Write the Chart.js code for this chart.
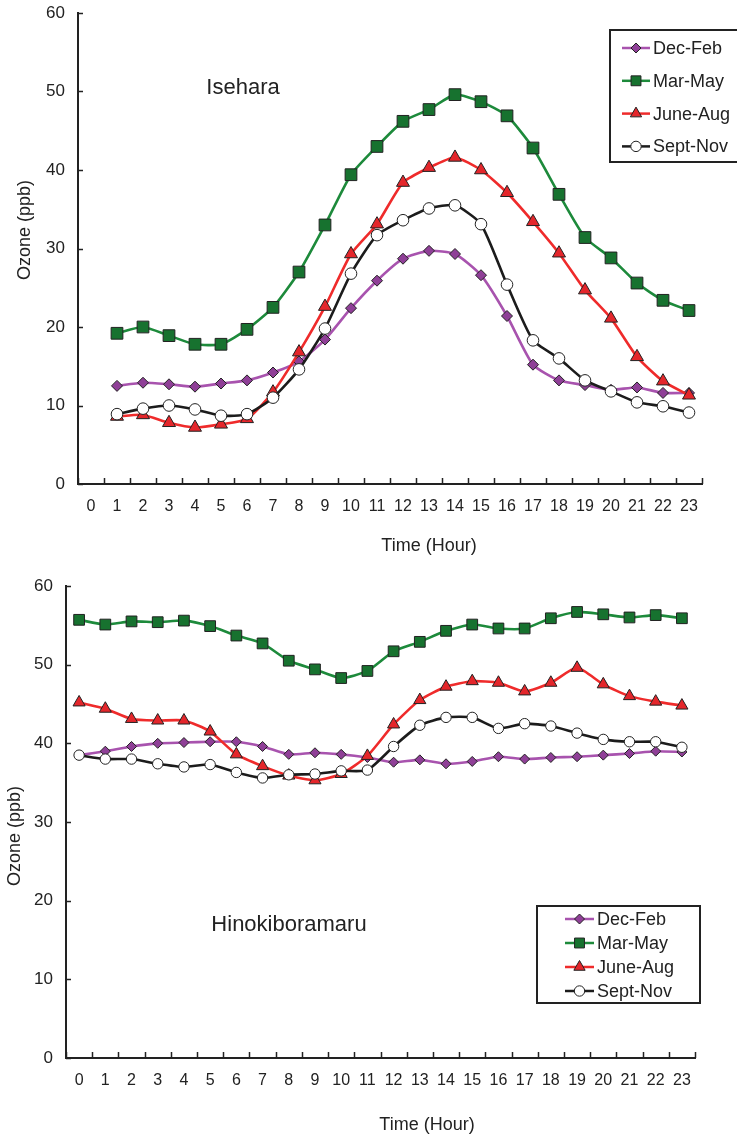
<!DOCTYPE html>
<html>
<head>
<meta charset="utf-8">
<script src="https://cdn.jsdelivr.net/npm/chart.js@4/dist/chart.umd.min.js"></script>
<style>
    html, body { margin: 0; padding: 0; background: #fff; }
    body { width: 737px; height: 1136px; position: relative; overflow: hidden; }
    .box { position: absolute; left: 0; width: 737px; }
    #topBox { top: 0; height: 560px; }
    #bottomBox { top: 560px; height: 576px; }
</style>
</head>
<body>
<div class="box" id="topBox"><canvas id="iseharaChart" width="737" height="560"></canvas></div>
<div class="box" id="bottomBox"><canvas id="hinoChart" width="737" height="576"></canvas></div>
<script>
const hours = ['0', '1', '2', '3', '4', '5', '6', '7', '8', '9', '10', '11', '12', '13', '14', '15', '16', '17', '18', '19', '20', '21', '22', '23'];
const yTicks = [0, 10, 20, 30, 40, 50, 60];
const seasons = ['Dec-Feb', 'Mar-May', 'June-Aug', 'Sept-Nov'];

// Isehara (no value at hour 0)
const iseharaDecFeb = [null, 12.5, 12.9, 12.7, 12.4, 12.8, 13.2, 14.2, 15.6, 18.4, 22.4, 25.9, 28.7, 29.7, 29.3, 26.6, 21.4, 15.2, 13.2, 12.6, 12.0, 12.3, 11.6, 11.6];
const iseharaMarMay = [null, 19.2, 20.0, 18.9, 17.8, 17.8, 19.7, 22.5, 27.0, 33.0, 39.4, 43.0, 46.2, 47.7, 49.6, 48.7, 46.9, 42.8, 36.9, 31.4, 28.8, 25.6, 23.4, 22.1];
const iseharaJunAug = [null, 8.6, 8.8, 7.8, 7.2, 7.6, 8.3, 11.7, 16.8, 22.6, 29.3, 33.1, 38.4, 40.3, 41.6, 40.0, 37.1, 33.4, 29.4, 24.7, 21.1, 16.2, 13.1, 11.3];
const iseharaSepNov = [null, 8.9, 9.6, 10.0, 9.5, 8.7, 8.9, 11.0, 14.6, 19.8, 26.8, 31.7, 33.6, 35.1, 35.5, 33.1, 25.4, 18.3, 16.0, 13.2, 11.8, 10.4, 9.9, 9.1];

// Hinokiboramaru
const hinoDecFeb = [38.5, 39.0, 39.6, 40.0, 40.1, 40.2, 40.2, 39.6, 38.6, 38.8, 38.6, 38.2, 37.6, 37.9, 37.4, 37.7, 38.3, 38.0, 38.2, 38.3, 38.5, 38.7, 39.0, 38.9];
const hinoMarMay = [55.7, 55.1, 55.5, 55.4, 55.6, 54.9, 53.7, 52.7, 50.5, 49.4, 48.3, 49.2, 51.7, 52.9, 54.3, 55.1, 54.6, 54.6, 55.9, 56.7, 56.4, 56.0, 56.3, 55.9];
const hinoJunAug = [45.2, 44.4, 43.1, 42.9, 42.9, 41.5, 38.6, 37.1, 35.9, 35.3, 36.1, 38.4, 42.4, 45.5, 47.2, 47.9, 47.7, 46.6, 47.7, 49.6, 47.5, 46.0, 45.3, 44.8];
const hinoSepNov = [38.5, 38.0, 38.0, 37.4, 37.0, 37.3, 36.3, 35.6, 36.0, 36.1, 36.5, 36.6, 39.6, 42.3, 43.3, 43.3, 41.9, 42.5, 42.2, 41.3, 40.5, 40.2, 40.2, 39.5];

const FONT = "'Liberation Sans', Arial, Helvetica, sans-serif";
const INK = '#222222';

const seriesStyle = [
    { line: '#a853ae', fill: '#8f3f97', pointStyle: 'rectRot' },
    { line: '#1d8a3b', fill: '#17722f', pointStyle: 'rect' },
    { line: '#ef2b2b', fill: '#e4262b', pointStyle: 'triangle' },
    { line: '#1c1c1c', fill: '#ffffff', pointStyle: 'circle' },
];

function drawMarker(ctx, style, radius, x, y) {
    ctx.save();
    ctx.fillStyle = style.fill;
    ctx.strokeStyle = INK;
    ctx.lineWidth = 1;
    Chart.helpers.drawPoint(ctx, { pointStyle: style.pointStyle, radius, borderWidth: 1, rotation: 0 }, x, y);
    ctx.restore();
}

// inward tick marks, axis titles, station label and boxed legend
const overlayPlugin = {
    id: 'overlay',
    afterDatasetsDraw(chart, args, opts) {
        const ctx = chart.ctx;
        const xs = chart.scales.x;
        const ys = chart.scales.y;
        const area = chart.chartArea;
        ctx.save();
        ctx.strokeStyle = INK;
        ctx.lineWidth = 1.5;
        ctx.beginPath();
        yTicks.forEach(v => {
            const py = Math.round(ys.getPixelForValue(v)) + 0.5;
            ctx.moveTo(area.left, py);
            ctx.lineTo(area.left + 5, py);
        });
        const half = (xs.getPixelForValue(1) - xs.getPixelForValue(0)) / 2;
        for (let i = 0; i <= hours.length; i++) {
            const px = Math.round(xs.getPixelForValue(i) - half) + 0.5;
            ctx.moveTo(px, area.bottom);
            ctx.lineTo(px, area.bottom - 6);
        }
        ctx.stroke();

        ctx.fillStyle = INK;
        ctx.textAlign = 'center';
        ctx.textBaseline = 'middle';
        ctx.font = '18px ' + FONT;
        ctx.fillText('Time (Hour)', opts.xTitle[0], opts.xTitle[1]);
        ctx.save();
        ctx.translate(opts.yTitle[0], opts.yTitle[1]);
        ctx.rotate(-Math.PI / 2);
        ctx.fillText('Ozone (ppb)', 0, 0);
        ctx.restore();

        ctx.font = '22px ' + FONT;
        ctx.fillText(opts.station, opts.stationAt[0], opts.stationAt[1]);

        const lg = opts.legend;
        ctx.lineWidth = 2;
        ctx.strokeStyle = INK;
        ctx.strokeRect(lg.x, lg.y, lg.w, lg.h);
        ctx.font = '18px ' + FONT;
        ctx.textAlign = 'left';
        chart.data.datasets.forEach((ds, i) => {
            const style = seriesStyle[i];
            const ry = lg.firstRow + i * lg.rowGap;
            ctx.strokeStyle = style.line;
            ctx.lineWidth = 2.5;
            ctx.beginPath();
            ctx.moveTo(lg.sample, ry);
            ctx.lineTo(lg.sample + lg.sampleW, ry);
            ctx.stroke();
            drawMarker(ctx, style, lg.radius[i], lg.sample + lg.sampleW / 2, ry);
            ctx.fillStyle = INK;
            ctx.fillText(ds.label, lg.sample + lg.sampleW + 3, ry + 1);
        });
        ctx.restore();
    },
};

function makeDatasets(values, radii, lineWidth) {
    return values.map((data, i) => ({
        label: seasons[i],
        data,
        order: values.length - i,
        borderColor: seriesStyle[i].line,
        backgroundColor: seriesStyle[i].fill,
        borderWidth: lineWidth,
        tension: 0.2,
        pointStyle: seriesStyle[i].pointStyle,
        pointRadius: radii[i],
        pointBackgroundColor: seriesStyle[i].fill,
        pointBorderColor: INK,
        pointBorderWidth: 1,
        fill: false,
    }));
}

function makeChart(canvasId, cfg) {
    return new Chart(document.getElementById(canvasId), {
        type: 'line',
        data: {
            labels: hours,
            datasets: makeDatasets(cfg.values, cfg.radii, 2.6),
        },
        options: {
            responsive: false,
            animation: false,
            layout: { padding: cfg.padding },
            plugins: {
                legend: { display: false },
                tooltip: { enabled: false },
                overlay: cfg.overlay,
            },
            scales: {
                x: {
                    offset: true,
                    grid: { display: false, offset: true, drawTicks: false },
                    border: { display: true, color: INK, width: 2 },
                    ticks: {
                        color: INK,
                        font: { family: FONT, size: 16 },
                        padding: 13,
                        maxRotation: 0,
                        autoSkip: false,
                    },
                    afterFit(scale) {
                        scale.height = cfg.xHeight;
                        scale.paddingLeft = 0;
                        scale.paddingRight = 0;
                    },
                },
                y: {
                    min: 0,
                    max: 60,
                    grid: { display: false, drawTicks: false },
                    border: { display: true, color: INK, width: 2 },
                    ticks: {
                        stepSize: 10,
                        color: INK,
                        font: { family: FONT, size: 17 },
                        padding: 13,
                    },
                    afterFit(scale) {
                        scale.width = cfg.yWidth;
                        scale.paddingTop = 0;
                        scale.paddingBottom = 0;
                    },
                },
            },
        },
        plugins: [overlayPlugin],
    });
}

makeChart('iseharaChart', {
    values: [iseharaDecFeb, iseharaMarMay, iseharaJunAug, iseharaSepNov],
    radii: [5.5, 8.3, 7.5, 5.8],
    padding: { top: 13, right: 35, left: 0, bottom: 0 },
    xHeight: 76,
    yWidth: 78,
    overlay: {
        xTitle: [429, 546],
        yTitle: [25, 230],
        station: 'Isehara',
        stationAt: [243, 88],
        legend: {
            x: 610, y: 30, w: 130, h: 132,
            firstRow: 48, rowGap: 32.8, sample: 622, sampleW: 28,
            radius: [5, 7, 6.5, 5.2],
        },
    },
});

makeChart('hinoChart', {
    values: [hinoDecFeb, hinoMarMay, hinoJunAug, hinoSepNov],
    radii: [5, 7.6, 7, 5.2],
    padding: { top: 26, right: 42, left: 0, bottom: 0 },
    xHeight: 78,
    yWidth: 66,
    overlay: {
        xTitle: [427, 565],
        yTitle: [15, 276],
        station: 'Hinokiboramaru',
        stationAt: [289, 365],
        legend: {
            x: 537, y: 346, w: 163, h: 97,
            firstRow: 359, rowGap: 24, sample: 565, sampleW: 29,
            radius: [5, 7, 6.5, 5.2],
        },
    },
});
</script>
</body>
</html>
